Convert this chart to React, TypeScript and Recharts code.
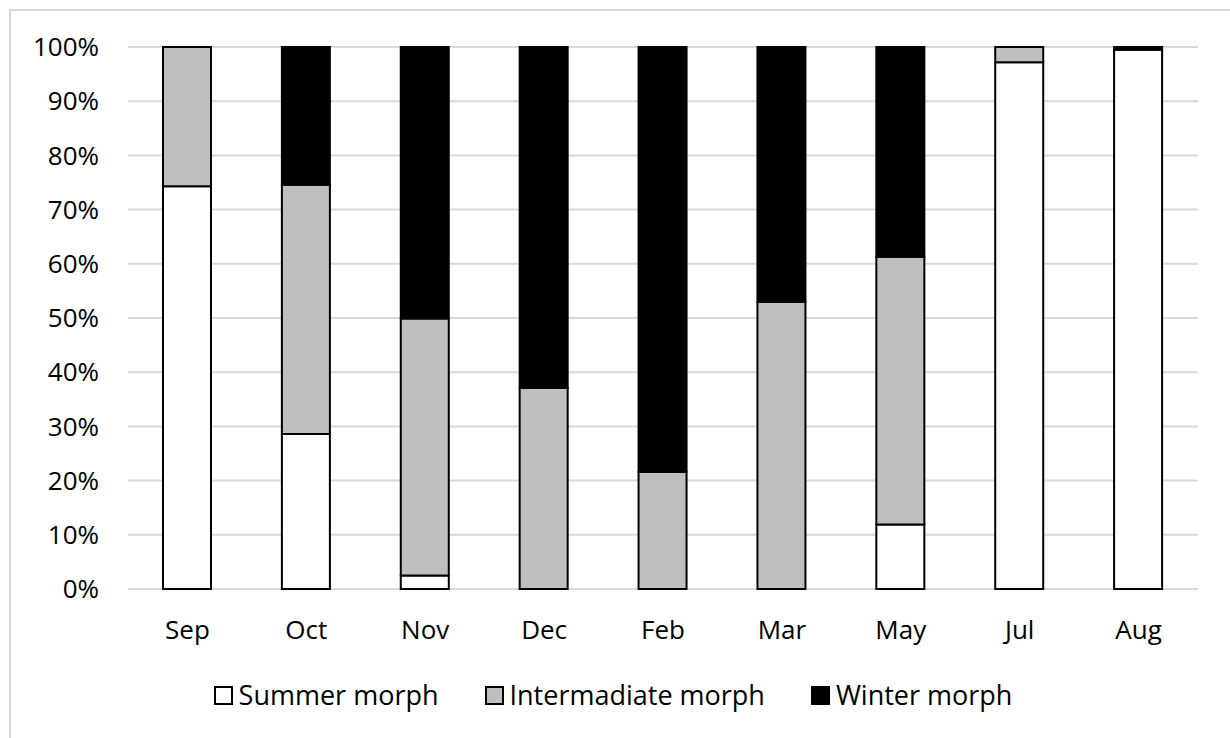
import React from 'react';
import { BarChart, Bar, XAxis, YAxis, CartesianGrid, Legend } from 'recharts';

const months = ['Sep', 'Oct', 'Nov', 'Dec', 'Feb', 'Mar', 'May', 'Jul', 'Aug'];
const summerMorph = [74.3, 28.6, 2.5, 0, 0, 0, 11.9, 97.2, 99.5];
const intermediateMorph = [25.7, 46.0, 47.4, 37.1, 21.6, 53.0, 49.4, 2.8, 0];
const winterMorph = [0, 25.4, 50.1, 62.9, 78.4, 47.0, 38.7, 0, 0.5];
const yTicks = [0, 10, 20, 30, 40, 50, 60, 70, 80, 90, 100];

const SERIES = [
    { key: 'summer', name: 'Summer morph', fill: '#ffffff' },
    { key: 'intermediate', name: 'Intermadiate morph', fill: '#bfbfbf' },
    { key: 'winter', name: 'Winter morph', fill: '#000000' },
];

const data = months.map((m, i) => ({
    month: m,
    summer: summerMorph[i],
    intermediate: intermediateMorph[i],
    winter: winterMorph[i],
}));

const FONT = "'Open Sans', 'Liberation Sans', sans-serif";

const LegendContent = () => (
    <div style={{ height: 86, display: 'flex', alignItems: 'center', justifyContent: 'center', fontFamily: FONT, fontSize: 27, color: '#000' }}>
        {SERIES.map((s, i) => (
            <div key={s.key} style={{ display: 'flex', alignItems: 'center', marginLeft: i === 0 ? 0 : 46 }}>
                <div style={{ width: 15, height: 15, background: s.fill, border: '2px solid #000' }} />
                <span style={{ marginLeft: 6, lineHeight: '30px' }}>{s.name}</span>
            </div>
        ))}
    </div>
);

export default function App() {
    return (
        <div style={{ position: 'absolute', left: 0, top: 0, width: 1230, height: 738, overflow: 'hidden', background: '#fff' }}>
            <div style={{ position: 'absolute', left: 9, top: 9, width: 1260, height: 760, border: '2px solid #d9d9d9' }} />
            <div style={{ position: 'absolute', left: 11, top: 11 }}>
                <BarChart width={1219} height={727} data={data} margin={{ top: 36, right: 32, left: 17, bottom: 0 }} barSize={48}>
                    <CartesianGrid vertical={false} stroke="#d9d9d9" strokeWidth={2} />
                    <XAxis
                        dataKey="month"
                        axisLine={false}
                        tickLine={false}
                        tickSize={0}
                        tickMargin={32}
                        height={63}
                        tick={{ fontSize: 26, fill: '#000', fontFamily: FONT }}
                    />
                    <YAxis
                        domain={[0, 100]}
                        ticks={yTicks}
                        interval={0}
                        axisLine={false}
                        tickLine={false}
                        tickSize={0}
                        tickMargin={29}
                        width={100}
                        tickFormatter={(v) => `${v}%`}
                        tick={{ fontSize: 26, fill: '#000', fontFamily: FONT }}
                    />
                    <Legend verticalAlign="bottom" content={<LegendContent />} wrapperStyle={{ height: 86 }} />
                    {SERIES.map((s) => (
                        <Bar
                            key={s.key}
                            dataKey={s.key}
                            name={s.name}
                            stackId="a"
                            fill={s.fill}
                            stroke="#000"
                            strokeWidth={2}
                            isAnimationActive={false}
                        />
                    ))}
                </BarChart>
            </div>
        </div>
    );
}
